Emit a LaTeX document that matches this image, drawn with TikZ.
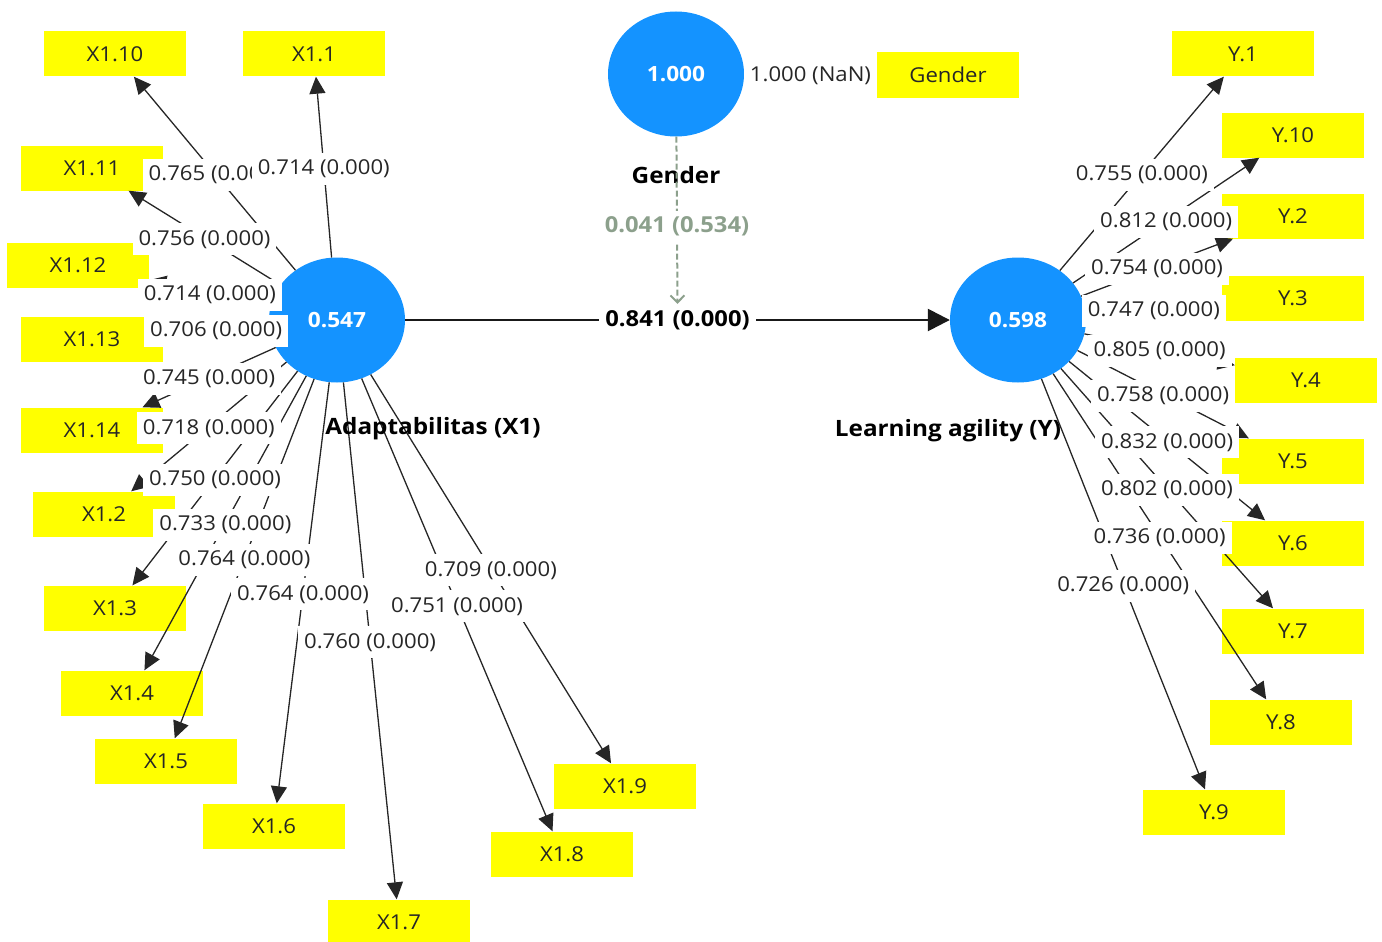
\documentclass[tikz,border=0pt]{standalone}
\usepackage{fontspec}
\setmainfont{Open Sans}[FakeStretch=1.08]
\usetikzlibrary{arrows.meta,shapes.geometric}
\definecolor{plsblue}{RGB}{20,147,255}
\definecolor{plsyellow}{RGB}{255,255,0}
\definecolor{modgreen}{RGB}{140,160,140}

\begin{document}
\begin{tikzpicture}[x=1pt, y=-1pt,
	every node/.style={font=\fontsize{20.5}{24}\selectfont, text=black!85},
	latent/.style={ellipse, fill=plsblue, minimum width=136pt, minimum height=125pt, inner sep=0pt, text=white, font=\fontsize{21}{24}\selectfont\bfseries},
	ind/.style={rectangle, fill=plsyellow, minimum width=142pt, minimum height=45pt, inner sep=0pt},
	load/.style={draw=black!85, line width=1.3pt, -{Triangle[length=17pt,width=16pt]}},
	lbl/.style={fill=white, inner xsep=6pt, inner ysep=0pt, minimum height=32pt, yshift=-1.5pt},
	boldlbl/.style={lbl, font=\fontsize{22}{26}\selectfont\bfseries},
	lvname/.style={font=\fontsize{22.5}{26}\selectfont\bfseries, text=black},
	modpath/.style={draw=modgreen, line width=2pt, dash pattern=on 6pt off 3pt, -{Straight Barb[length=7pt,width=14pt]}}]
	\useasboundingbox (0,0) rectangle (1382,942);

	\node[latent] (X) at (337,320) {0.547};
	\node[latent] (Y) at (1018,320) {0.598};
	\node[latent] (G) at (676,74) {1.000};

	\node[ind] (x10) at (115,54) {X1.10};
	\node[ind] (x1) at (314,54) {X1.1};
	\node[ind] (x11) at (92,168) {X1.11};
	\node[ind] (x12) at (78,265) {X1.12};
	\node[ind] (x13) at (92,339) {X1.13};
	\node[ind] (x14) at (92,430) {X1.14};
	\node[ind] (x2) at (104,514) {X1.2};
	\node[ind] (x3) at (115,608) {X1.3};
	\node[ind] (x4) at (132,693) {X1.4};
	\node[ind] (x5) at (166,761) {X1.5};
	\node[ind] (x6) at (274,826) {X1.6};
	\node[ind] (x7) at (399,922) {X1.7};
	\node[ind] (x8) at (562,854) {X1.8};
	\node[ind] (x9) at (625,786) {X1.9};
	\node[ind] (g1) at (948,75) {Gender};
	\node[ind] (y1) at (1243,54) {Y.1};
	\node[ind] (y10) at (1293,135) {Y.10};
	\node[ind] (y2) at (1293,216) {Y.2};
	\node[ind] (y3) at (1293,298) {Y.3};
	\node[ind] (y4) at (1306,380) {Y.4};
	\node[ind] (y5) at (1293,461) {Y.5};
	\node[ind] (y6) at (1293,543) {Y.6};
	\node[ind] (y7) at (1293,631) {Y.7};
	\node[ind] (y8) at (1281,722) {Y.8};
	\node[ind] (y9) at (1214,812) {Y.9};

	\draw[load] (X) -- (x10);
	\draw[load] (X) -- (x1);
	\draw[load] (X) -- (x11);
	\draw[load] (X) -- (x12);
	\draw[load] (X) -- (x13);
	\draw[load] (X) -- (x14);
	\draw[load] (X) -- (x2);
	\draw[load] (X) -- (x3);
	\draw[load] (X) -- (x4);
	\draw[load] (X) -- (x5);
	\draw[load] (X) -- (x6);
	\draw[load] (X) -- (x7);
	\draw[load] (X) -- (x8);
	\draw[load] (X) -- (x9);
	\draw[load] (G) -- (g1);
	\draw[load] (Y) -- (y1);
	\draw[load] (Y) -- (y10);
	\draw[load] (Y) -- (y2);
	\draw[load] (Y) -- (y3);
	\draw[load] (Y) -- (y4);
	\draw[load] (Y) -- (y5);
	\draw[load] (Y) -- (y6);
	\draw[load] (Y) -- (y7);
	\draw[load] (Y) -- (y8);
	\draw[load] (Y) -- (y9);
	\draw[line width=2.6pt, draw=black!90, -{Triangle[length=22pt,width=22pt]}] (X) -- (Y);

	\node[lvname] (nX) at (433,429) {Adaptabilitas (X1)};
	\node[lvname] (nY) at (948,431) {Learning agility (Y)};
	\node[lvname] (nG) at (676,175) {Gender};

	% loadings on top of the lines
	\path (X) -- node[lbl] {0.765 (0.000)} (x10);
	\path (X) -- node[lbl] {0.714 (0.000)} (x1);
	\path (X) -- node[lbl] {0.756 (0.000)} (x11);
	\path (X) -- node[lbl] {0.714 (0.000)} (x12);
	\path (X) -- node[lbl] {0.706 (0.000)} (x13);
	\path (X) -- node[lbl] {0.745 (0.000)} (x14);
	\path (X) -- node[lbl] {0.718 (0.000)} (x2);
	\path (X) -- node[lbl] {0.750 (0.000)} (x3);
	\path (X) -- node[lbl] {0.733 (0.000)} (x4);
	\path (X) -- node[lbl] {0.764 (0.000)} (x5);
	\path (X) -- node[lbl] {0.764 (0.000)} (x6);
	\path (X) -- node[lbl] {0.760 (0.000)} (x7);
	\path (X) -- node[lbl] {0.751 (0.000)} (x8);
	\path (X) -- node[lbl] {0.709 (0.000)} (x9);
	\path (G) -- node[lbl] {1.000 (NaN)} (g1);
	\path (Y) -- node[lbl] {0.755 (0.000)} (y1);
	\path (Y) -- node[lbl] {0.812 (0.000)} (y10);
	\path (Y) -- node[lbl] {0.754 (0.000)} (y2);
	\path (Y) -- node[lbl] {0.747 (0.000)} (y3);
	\path (Y) -- node[lbl] {0.805 (0.000)} (y4);
	\path (Y) -- node[lbl] {0.758 (0.000)} (y5);
	\path (Y) -- node[lbl] {0.832 (0.000)} (y6);
	\path (Y) -- node[lbl] {0.802 (0.000)} (y7);
	\path (Y) -- node[lbl] {0.736 (0.000)} (y8);
	\path (Y) -- node[lbl] {0.726 (0.000)} (y9);
	\path (X) -- node[boldlbl, text=black, yshift=1.5pt] (pXY) {0.841 (0.000)} (Y);

	% moderating effect
	\draw[modpath] (G) -- node[pos=0.53, boldlbl, text=modgreen] {0.041 (0.534)} (pXY.north);
\end{tikzpicture}
\end{document}
